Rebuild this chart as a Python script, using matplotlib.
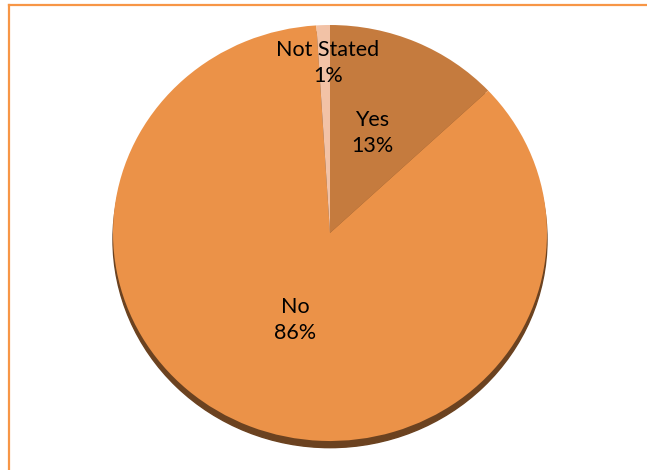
import matplotlib.pyplot as plt
from matplotlib.lines import Line2D
from matplotlib.patches import Ellipse

labels = ['Yes', 'No', 'Not Stated']
values = [13, 86, 1]
colors = ['#C57B3E', '#EB9248', '#F2C2A6']
label_pos = {'Yes': (372, 133), 'No': (295, 320), 'Not Stated': (328, 63)}

W, H = 647, 470
fig = plt.figure(figsize=(W / 100, H / 100), dpi=100)

# orange frame (top and left edges visible)
fig.add_artist(Line2D([9 / W, 1], [1 - 5 / H, 1 - 5 / H], color='#F79646', lw=1.6))
fig.add_artist(Line2D([9 / W, 9 / W], [1 - 5 / H, 0], color='#F79646', lw=1.6))

# pie bounding box in pixels
left, right, top, bottom = 113, 547, 25, 441
cx, cy = (left + right) / 2, (top + bottom) / 2
rx, ry = (right - left) / 2, (bottom - top) / 2
ax = fig.add_axes([left / W, 1 - bottom / H, (right - left) / W, (bottom - top) / H])

# shadow under the pie
ax.add_patch(Ellipse((0, -0.032), 2, 2, color='#6B4220', zorder=0, clip_on=False))

wedges, _ = ax.pie(values, colors=colors, startangle=90, counterclock=False,
                   wedgeprops=dict(linewidth=0))
for w in wedges:
    w.set_zorder(1)
ax.set_aspect('auto')
ax.set_xlim(-1, 1)
ax.set_ylim(-1, 1)
ax.axis('off')

for lab, v in zip(labels, values):
    px, py = label_pos[lab]
    ax.text((px - cx) / rx, (cy - py) / ry, '%s\n%d%%' % (lab, v),
            ha='center', va='center', fontsize=15.5, family='Lato',
            color='black', linespacing=1.35, zorder=3)

fig.savefig('out.png', dpi=100)
